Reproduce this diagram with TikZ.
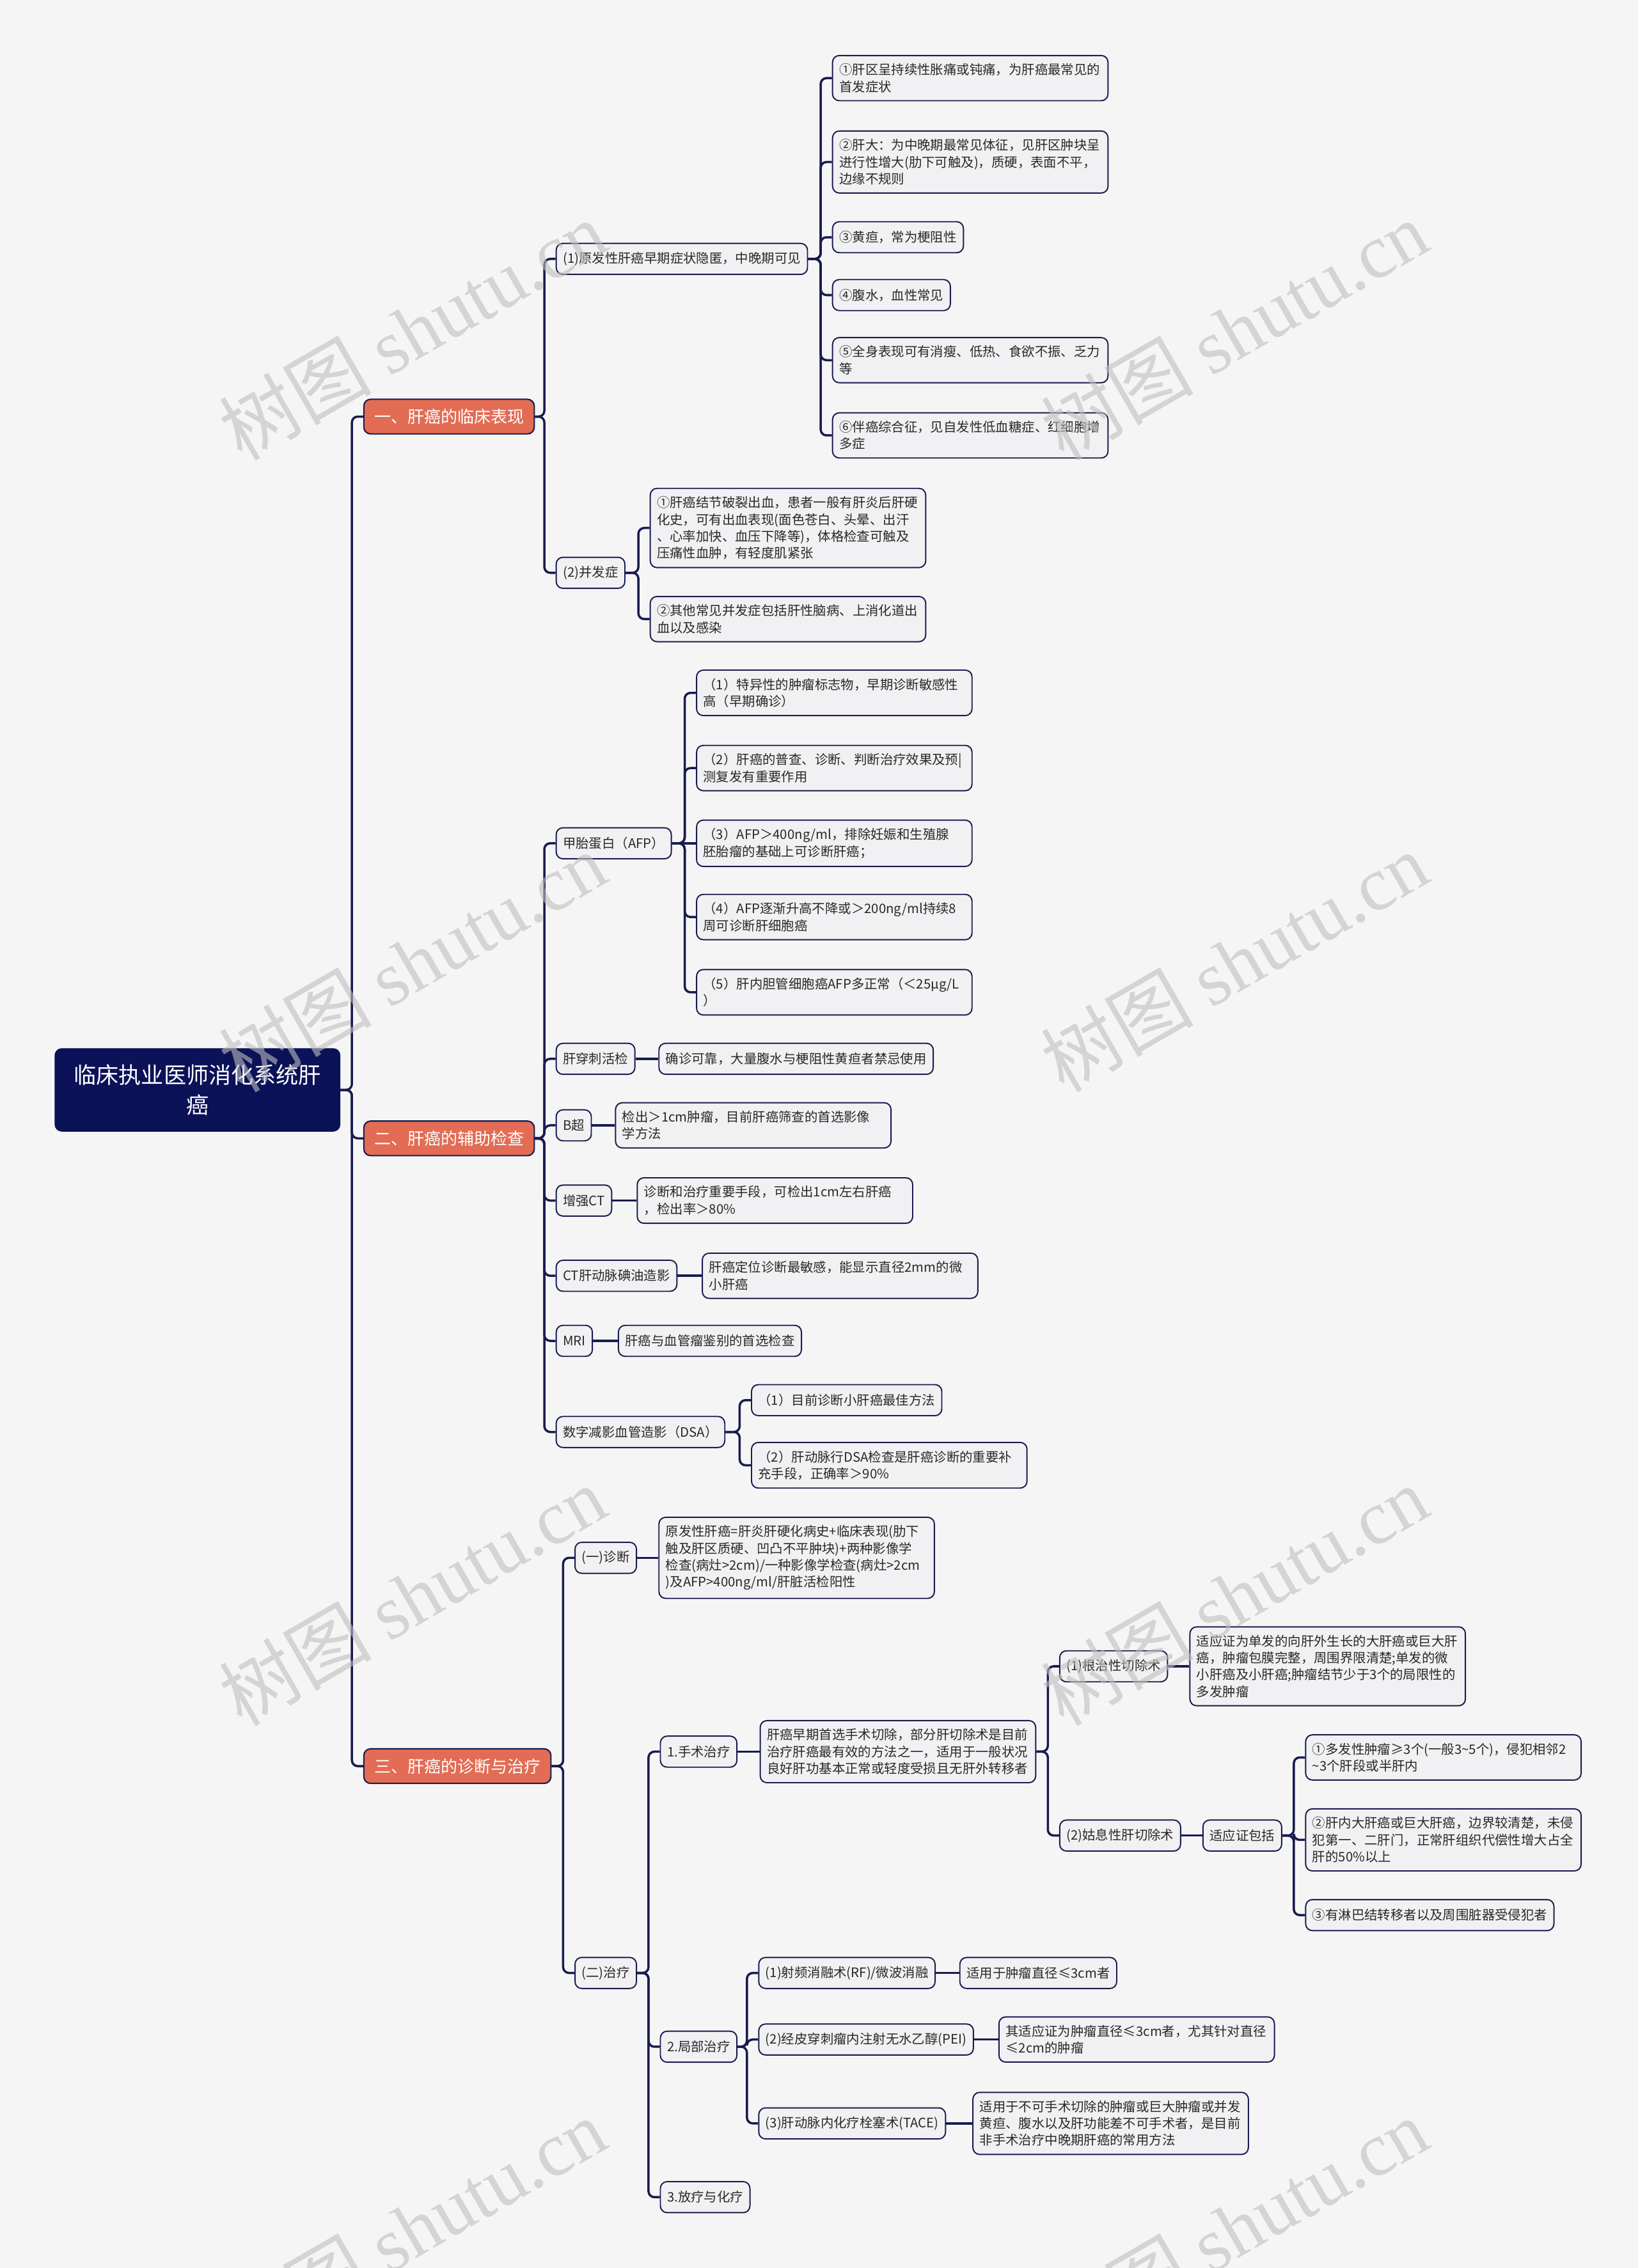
\documentclass[tikz,border=0pt]{standalone}
\usepackage{fontspec}
\setmainfont{Noto Sans CJK SC}
\newfontfamily\wmserif{Liberation Serif}
\usetikzlibrary{positioning}
\definecolor{bggray}{RGB}{245,245,245}
\definecolor{navyline}{RGB}{24,28,78}
\definecolor{navyfill}{RGB}{11,18,88}
\definecolor{coral}{RGB}{226,108,84}
\definecolor{boxfill}{RGB}{241,241,243}
\definecolor{inkgray}{RGB}{40,40,40}
\definecolor{wmgray}{RGB}{190,190,190}

\begin{document}
\begin{tikzpicture}[
    x=0.6434pt, y=-0.6434pt,
    rootbox/.style={rectangle, rounded corners=3pt, draw=navyfill, fill=navyfill, text=white,
                minimum width=126.7pt, minimum height=36.7pt, align=center,
                font=\fontsize{10pt}{13.5pt}\selectfont},
    topicbox/.style={rectangle, rounded corners=3pt, draw=navyline, line width=0.6pt, fill=coral,
                text=white, anchor=west, inner xsep=4.6pt, inner ysep=0pt, minimum height=15.4pt,
                font=\fontsize{7.4pt}{8pt}\selectfont},
    leafbox/.style={rectangle, rounded corners=3pt, draw=navyline, line width=0.55pt, fill=boxfill,
                text=inkgray, anchor=west, inner xsep=3pt, inner ysep=3.6pt, minimum height=13.8pt,
                font=\fontsize{5.8pt}{7.5pt}\selectfont},
    wrapbox/.style={leafbox, text width=116.5pt, align=left},
    wire/.style={draw=navyline, line width=1pt, rounded corners=2.6pt},
    stamp/.style={text=wmgray, opacity=0.6, rotate=30, font=\fontsize{34pt}{34pt}\selectfont}
]
\useasboundingbox (0,0) rectangle (1132,1568);
\fill[bggray] (0,0) rectangle (1132,1568);

% root and main topics
\node[rootbox] (root) at (136.5,753.5) {临床执业医师消化系统肝\\癌};
\node[topicbox] (c1) at (251,288)  {一、肝癌的临床表现};
\node[topicbox] (c2) at (251,787)  {二、肝癌的辅助检查};
\node[topicbox] (c3) at (251,1221) {三、肝癌的诊断与治疗};

% 一
\node[leafbox] (s1) at (384,179) {(1)原发性肝癌早期症状隐匿，中晚期可见};
\node[leafbox] (s2) at (384,396) {(2)并发症};
\node[wrapbox] (s1a) at (575,54)  {①肝区呈持续性胀痛或钝痛，为肝癌最常见的\\首发症状};
\node[wrapbox] (s1b) at (575,112) {②肝大：为中晚期最常见体征，见肝区肿块呈\\进行性增大(肋下可触及)，质硬，表面不平，\\边缘不规则};
\node[leafbox] (s1c) at (575,164) {③黄疸，常为梗阻性};
\node[leafbox] (s1d) at (575,204) {④腹水，血性常见};
\node[wrapbox] (s1e) at (575,249) {⑤全身表现可有消瘦、低热、食欲不振、乏力\\等};
\node[wrapbox] (s1f) at (575,301) {⑥伴癌综合征，见自发性低血糖症、红细胞增\\多症};
\node[wrapbox] (s2a) at (449,365) {①肝癌结节破裂出血，患者一般有肝炎后肝硬\\化史，可有出血表现(面色苍白、头晕、出汗\\、心率加快、血压下降等)，体格检查可触及\\压痛性血肿，有轻度肌紧张};
\node[wrapbox] (s2b) at (449,428) {②其他常见并发症包括肝性脑病、上消化道出\\血以及感染};

% 二
\node[leafbox] (e1) at (384,583) {甲胎蛋白（AFP）};
\node[leafbox] (e2) at (384,732) {肝穿刺活检};
\node[leafbox] (e3) at (384,778) {B超};
\node[leafbox] (e4) at (384,830) {增强CT};
\node[leafbox] (e5) at (384,882) {CT肝动脉碘油造影};
\node[leafbox] (e6) at (384,927) {MRI};
\node[leafbox] (e7) at (384,990) {数字减影血管造影（DSA）};
\node[wrapbox] (e1a) at (481,479) {（1）特异性的肿瘤标志物，早期诊断敏感性\\高（早期确诊）};
\node[wrapbox] (e1b) at (481,531) {（2）肝癌的普查、诊断、判断治疗效果及预|\\测复发有重要作用};
\node[wrapbox] (e1c) at (481,583) {（3）AFP＞400ng/ml，排除妊娠和生殖腺\\胚胎瘤的基础上可诊断肝癌；};
\node[wrapbox] (e1d) at (481,634) {（4）AFP逐渐升高不降或＞200ng/ml持续8\\周可诊断肝细胞癌};
\node[wrapbox] (e1e) at (481,686) {（5）肝内胆管细胞癌AFP多正常（＜25μg/L\\）};
\node[leafbox] (e2a) at (455,732) {确诊可靠，大量腹水与梗阻性黄疸者禁忌使用};
\node[wrapbox] (e3a) at (425,778) {检出＞1cm肿瘤，目前肝癌筛查的首选影像\\学方法};
\node[wrapbox] (e4a) at (440,830) {诊断和治疗重要手段，可检出1cm左右肝癌\\，检出率＞80\%};
\node[wrapbox] (e5a) at (485,882) {肝癌定位诊断最敏感，能显示直径2mm的微\\小肝癌};
\node[leafbox] (e6a) at (427,927) {肝癌与血管瘤鉴别的首选检查};
\node[leafbox] (e7a) at (519,968) {（1）目前诊断小肝癌最佳方法};
\node[wrapbox] (e7b) at (519,1013) {（2）肝动脉行DSA检查是肝癌诊断的重要补\\充手段，正确率＞90\%};

% 三
\node[leafbox] (t1) at (397,1077) {(一)诊断};
\node[leafbox] (t2) at (397,1364) {(二)治疗};
\node[wrapbox] (t1a) at (455,1077) {原发性肝癌=肝炎肝硬化病史+临床表现(肋下\\触及肝区质硬、凹凸不平肿块)+两种影像学\\检查(病灶>2cm)/一种影像学检查(病灶>2cm\\)及AFP>400ng/ml/肝脏活检阳性};
\node[leafbox] (u1) at (456,1211) {1.手术治疗};
\node[leafbox] (u2) at (456,1415) {2.局部治疗};
\node[leafbox] (u3) at (456,1519) {3.放疗与化疗};
\node[wrapbox] (u1a) at (525,1211) {肝癌早期首选手术切除，部分肝切除术是目前\\治疗肝癌最有效的方法之一，适用于一般状况\\良好肝功基本正常或轻度受损且无肝外转移者};
\node[leafbox] (v1) at (732,1152) {(1)根治性切除术};
\node[leafbox] (v2) at (732,1269) {(2)姑息性肝切除术};
\node[wrapbox] (v1a) at (822,1152) {适应证为单发的向肝外生长的大肝癌或巨大肝\\癌，肿瘤包膜完整，周围界限清楚;单发的微\\小肝癌及小肝癌;肿瘤结节少于3个的局限性的\\多发肿瘤};
\node[leafbox] (v2a) at (831,1269) {适应证包括};
\node[wrapbox] (w1) at (902,1215) {①多发性肿瘤≥3个(一般3\textasciitilde 5个)，侵犯相邻2\\\textasciitilde 3个肝段或半肝内};
\node[wrapbox] (w2) at (902,1272) {②肝内大肝癌或巨大肝癌，边界较清楚，未侵\\犯第一、二肝门，正常肝组织代偿性增大占全\\肝的50\%以上};
\node[leafbox] (w3) at (902,1324) {③有淋巴结转移者以及周围脏器受侵犯者};
\node[leafbox] (x1) at (524,1364) {(1)射频消融术(RF)/微波消融};
\node[leafbox] (x2) at (524,1410) {(2)经皮穿刺瘤内注射无水乙醇(PEI)};
\node[leafbox] (x3) at (524,1468) {(3)肝动脉内化疗栓塞术(TACE)};
\node[leafbox] (x1a) at (663,1364) {适用于肿瘤直径≤3cm者};
\node[wrapbox] (x2a) at (690,1410) {其适应证为肿瘤直径≤3cm者，尤其针对直径\\≤2cm的肿瘤};
\node[wrapbox] (x3a) at (672,1468) {适用于不可手术切除的肿瘤或巨大肿瘤或并发\\黄疸、腹水以及肝功能差不可手术者，是目前\\非手术治疗中晚期肝癌的常用方法};

% connectors
\draw[wire] (root.east) -| ([xshift=-5pt]c1.west) -- (c1.west);
\draw[wire] (root.east) -| ([xshift=-5pt]c2.west) -- (c2.west);
\draw[wire] (root.east) -| ([xshift=-5pt]c3.west) -- (c3.west);

\draw[wire] (c1.east) -| ([xshift=-5pt]s1.west) -- (s1.west);
\draw[wire] (c1.east) -| ([xshift=-5pt]s2.west) -- (s2.west);
\draw[wire] (s1.east) -| ([xshift=-5pt]s1a.west) -- (s1a.west);
\draw[wire] (s1.east) -| ([xshift=-5pt]s1b.west) -- (s1b.west);
\draw[wire] (s1.east) -| ([xshift=-5pt]s1c.west) -- (s1c.west);
\draw[wire] (s1.east) -| ([xshift=-5pt]s1d.west) -- (s1d.west);
\draw[wire] (s1.east) -| ([xshift=-5pt]s1e.west) -- (s1e.west);
\draw[wire] (s1.east) -| ([xshift=-5pt]s1f.west) -- (s1f.west);
\draw[wire] (s2.east) -| ([xshift=-5pt]s2a.west) -- (s2a.west);
\draw[wire] (s2.east) -| ([xshift=-5pt]s2b.west) -- (s2b.west);

\draw[wire] (c2.east) -| ([xshift=-5pt]e1.west) -- (e1.west);
\draw[wire] (c2.east) -| ([xshift=-5pt]e2.west) -- (e2.west);
\draw[wire] (c2.east) -| ([xshift=-5pt]e3.west) -- (e3.west);
\draw[wire] (c2.east) -| ([xshift=-5pt]e4.west) -- (e4.west);
\draw[wire] (c2.east) -| ([xshift=-5pt]e5.west) -- (e5.west);
\draw[wire] (c2.east) -| ([xshift=-5pt]e6.west) -- (e6.west);
\draw[wire] (c2.east) -| ([xshift=-5pt]e7.west) -- (e7.west);
\draw[wire] (e1.east) -| ([xshift=-5pt]e1a.west) -- (e1a.west);
\draw[wire] (e1.east) -| ([xshift=-5pt]e1b.west) -- (e1b.west);
\draw[wire] (e1.east) -- (e1c.west);
\draw[wire] (e1.east) -| ([xshift=-5pt]e1d.west) -- (e1d.west);
\draw[wire] (e1.east) -| ([xshift=-5pt]e1e.west) -- (e1e.west);
\draw[wire] (e2.east) -- (e2a.west);
\draw[wire] (e3.east) -- (e3a.west);
\draw[wire] (e4.east) -- (e4a.west);
\draw[wire] (e5.east) -- (e5a.west);
\draw[wire] (e6.east) -- (e6a.west);
\draw[wire] (e7.east) -| ([xshift=-5pt]e7a.west) -- (e7a.west);
\draw[wire] (e7.east) -| ([xshift=-5pt]e7b.west) -- (e7b.west);

\draw[wire] (c3.east) -| ([xshift=-5pt]t1.west) -- (t1.west);
\draw[wire] (c3.east) -| ([xshift=-5pt]t2.west) -- (t2.west);
\draw[wire] (t1.east) -- (t1a.west);
\draw[wire] (t2.east) -| ([xshift=-5pt]u1.west) -- (u1.west);
\draw[wire] (t2.east) -| ([xshift=-5pt]u2.west) -- (u2.west);
\draw[wire] (t2.east) -| ([xshift=-5pt]u3.west) -- (u3.west);
\draw[wire] (u1.east) -- (u1a.west);
\draw[wire] (u1a.east) -| ([xshift=-5pt]v1.west) -- (v1.west);
\draw[wire] (u1a.east) -| ([xshift=-5pt]v2.west) -- (v2.west);
\draw[wire] (v1.east) -- (v1a.west);
\draw[wire] (v2.east) -- (v2a.west);
\draw[wire] (v2a.east) -| ([xshift=-5pt]w1.west) -- (w1.west);
\draw[wire] (v2a.east) -| ([xshift=-5pt]w2.west) -- (w2.west);
\draw[wire] (v2a.east) -| ([xshift=-5pt]w3.west) -- (w3.west);
\draw[wire] (u2.east) -| ([xshift=-5pt]x1.west) -- (x1.west);
\draw[wire] (u2.east) -| ([xshift=-5pt]x2.west) -- (x2.west);
\draw[wire] (u2.east) -| ([xshift=-5pt]x3.west) -- (x3.west);
\draw[wire] (x1.east) -- (x1a.west);
\draw[wire] (x2.east) -- (x2a.west);
\draw[wire] (x3.east) -- (x3a.west);

% watermark
\node[stamp] (wm1) at (285,228)  {树图 {\wmserif shutu.cn}};
\node[stamp] (wm2) at (853,228)  {树图 {\wmserif shutu.cn}};
\node[stamp] (wm3) at (285,665)  {树图 {\wmserif shutu.cn}};
\node[stamp] (wm4) at (853,665)  {树图 {\wmserif shutu.cn}};
\node[stamp] (wm5) at (285,1103) {树图 {\wmserif shutu.cn}};
\node[stamp] (wm6) at (853,1103) {树图 {\wmserif shutu.cn}};
\node[stamp] (wm7) at (285,1540) {树图 {\wmserif shutu.cn}};
\node[stamp] (wm8) at (853,1540) {树图 {\wmserif shutu.cn}};

\end{tikzpicture}
\end{document}
